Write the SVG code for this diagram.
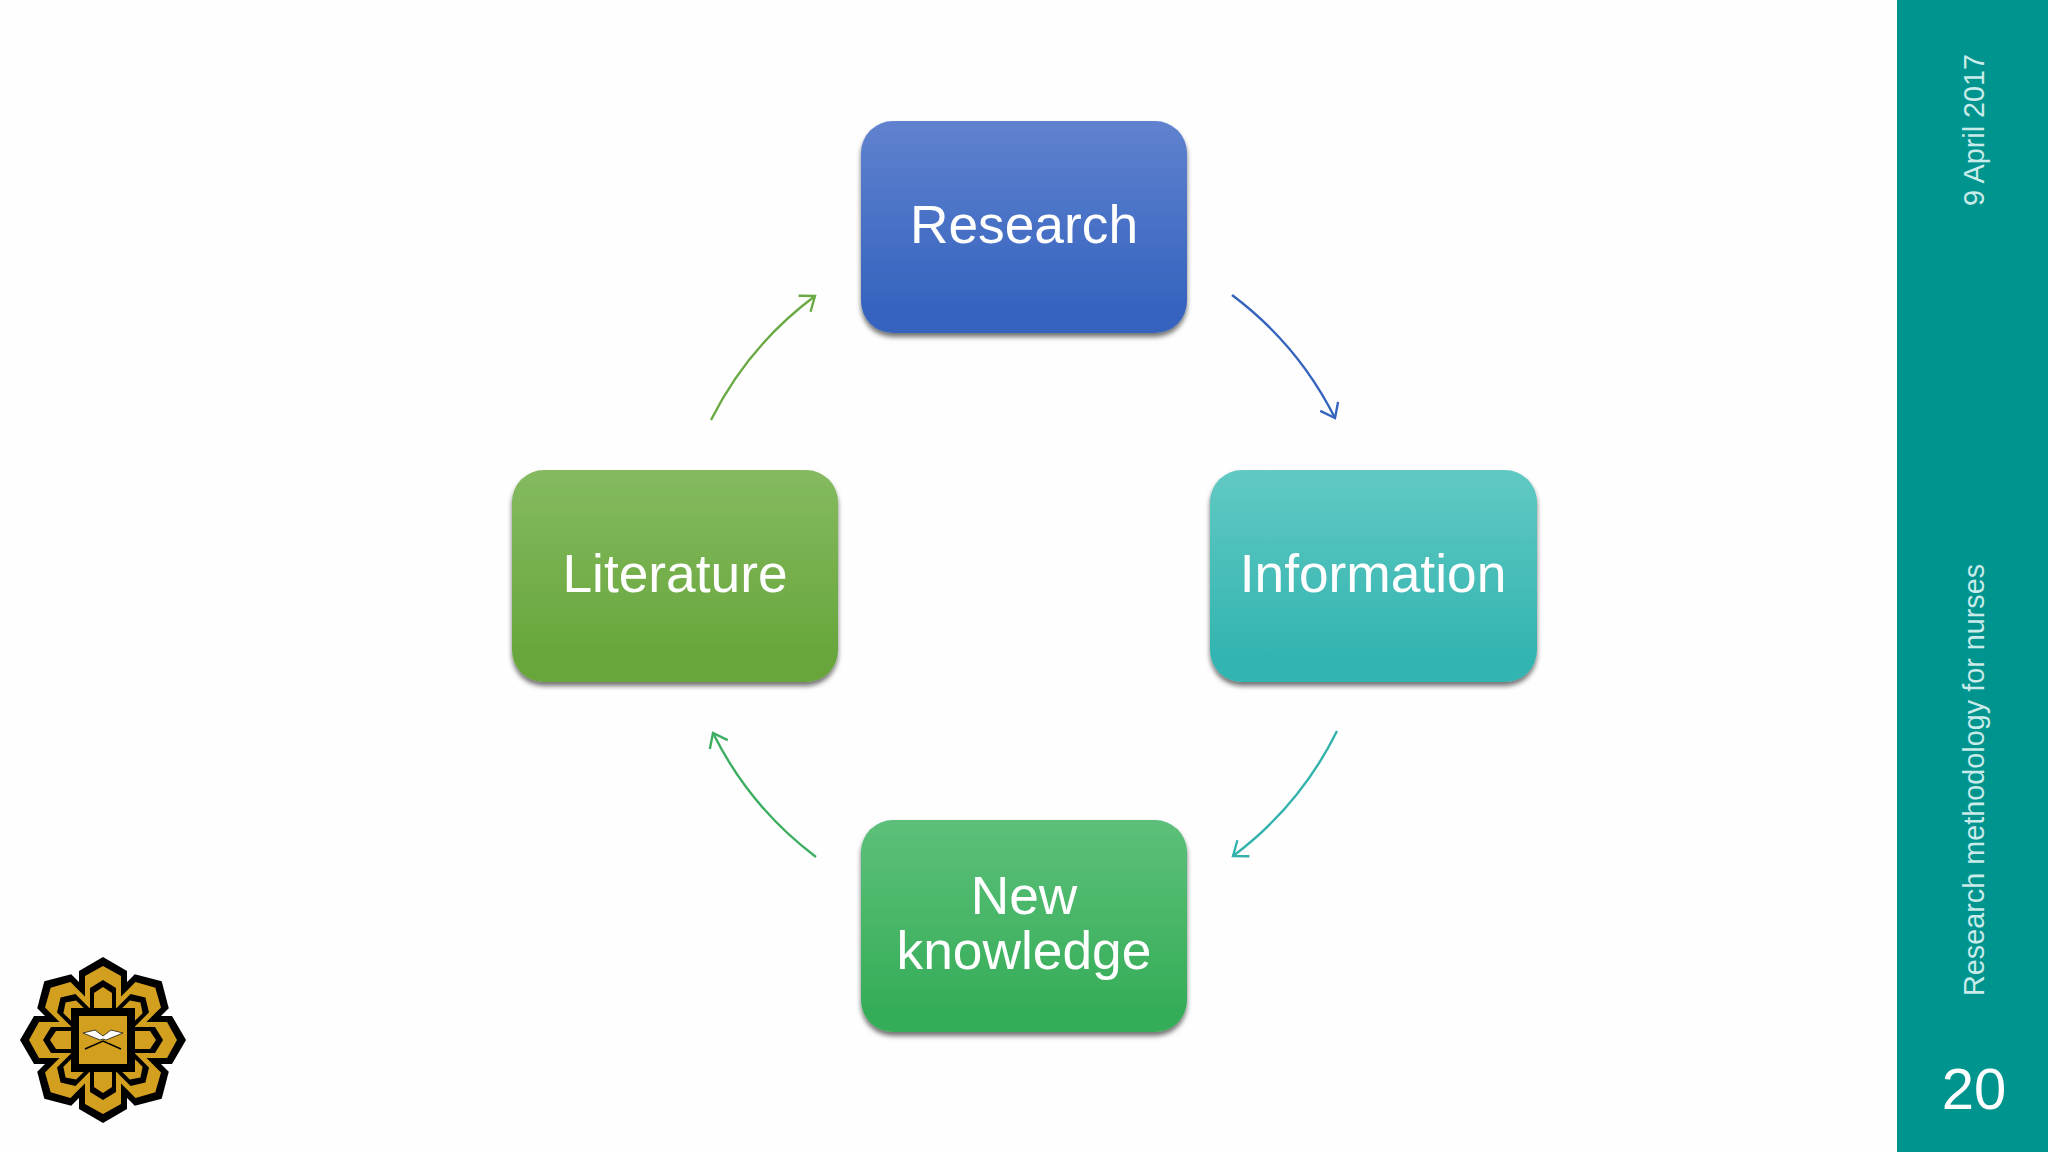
<svg xmlns="http://www.w3.org/2000/svg" xmlns:xlink="http://www.w3.org/1999/xlink" width="2048" height="1152" viewBox="0 0 2048 1152">
<style>
.lbl{font-family:"Liberation Sans",Arial,sans-serif;font-size:53.3px;fill:#fff;text-anchor:middle}
.side{font-family:"Liberation Sans",Arial,sans-serif;font-size:28.8px;fill:#c9ebe9}
.arc{fill:none;stroke-width:2.4}
.box{filter:url(#sh)}
</style>
<defs>
<filter id="sh" x="-10%" y="-10%" width="120%" height="125%"><feDropShadow dx="0" dy="4" stdDeviation="2.5" flood-color="#000" flood-opacity="0.55"/></filter>
<linearGradient id="gB" x1="0" y1="0" x2="0" y2="1"><stop offset="0" stop-color="#6082cf"/><stop offset="0.9" stop-color="#3463be"/></linearGradient>
<linearGradient id="gT" x1="0" y1="0" x2="0" y2="1"><stop offset="0" stop-color="#62c9c3"/><stop offset="0.9" stop-color="#31b4b0"/></linearGradient>
<linearGradient id="gN" x1="0" y1="0" x2="0" y2="1"><stop offset="0" stop-color="#5dc07a"/><stop offset="0.9" stop-color="#35ad58"/></linearGradient>
<linearGradient id="gL" x1="0" y1="0" x2="0" y2="1"><stop offset="0" stop-color="#85ba60"/><stop offset="0.9" stop-color="#67a63b"/></linearGradient>
<marker id="mB" markerUnits="userSpaceOnUse" markerWidth="24" markerHeight="24" refX="16" refY="12" orient="auto"><path d="M3 2L16 12L3 22" fill="none" stroke="#3564bd" stroke-width="2.4"/></marker>
<marker id="mT" markerUnits="userSpaceOnUse" markerWidth="24" markerHeight="24" refX="16" refY="12" orient="auto"><path d="M3 2L16 12L3 22" fill="none" stroke="#33b2ac" stroke-width="2.4"/></marker>
<marker id="mN" markerUnits="userSpaceOnUse" markerWidth="24" markerHeight="24" refX="16" refY="12" orient="auto"><path d="M3 2L16 12L3 22" fill="none" stroke="#3dad62" stroke-width="2.4"/></marker>
<marker id="mL" markerUnits="userSpaceOnUse" markerWidth="24" markerHeight="24" refX="16" refY="12" orient="auto"><path d="M3 2L16 12L3 22" fill="none" stroke="#6aaa45" stroke-width="2.4"/></marker>
<polygon id="p1" points="0,-83 24,-69 24,-30 -24,-30 -24,-69" fill="#000"/>
<polygon id="p2" points="0,-74 18,-64 18,-28 -18,-28 -18,-64" fill="#d29f1e"/>
<polygon id="p3" points="0,-60 13,-52 13,-28 -13,-28 -13,-52" fill="#000"/>
<polygon id="p4" points="0,-53 9,-47 9,-28 -9,-28 -9,-47" fill="#d29f1e"/>
<g id="ring1"><use href="#p1"/><use href="#p1" transform="rotate(45)"/><use href="#p1" transform="rotate(90)"/><use href="#p1" transform="rotate(135)"/><use href="#p1" transform="rotate(180)"/><use href="#p1" transform="rotate(225)"/><use href="#p1" transform="rotate(270)"/><use href="#p1" transform="rotate(315)"/></g>
<g id="ring2"><use href="#p2"/><use href="#p2" transform="rotate(45)"/><use href="#p2" transform="rotate(90)"/><use href="#p2" transform="rotate(135)"/><use href="#p2" transform="rotate(180)"/><use href="#p2" transform="rotate(225)"/><use href="#p2" transform="rotate(270)"/><use href="#p2" transform="rotate(315)"/></g>
<g id="ring3"><use href="#p3"/><use href="#p3" transform="rotate(45)"/><use href="#p3" transform="rotate(90)"/><use href="#p3" transform="rotate(135)"/><use href="#p3" transform="rotate(180)"/><use href="#p3" transform="rotate(225)"/><use href="#p3" transform="rotate(270)"/><use href="#p3" transform="rotate(315)"/></g>
<g id="ring4"><use href="#p4"/><use href="#p4" transform="rotate(45)"/><use href="#p4" transform="rotate(90)"/><use href="#p4" transform="rotate(135)"/><use href="#p4" transform="rotate(180)"/><use href="#p4" transform="rotate(225)"/><use href="#p4" transform="rotate(270)"/><use href="#p4" transform="rotate(315)"/></g>
</defs>
<rect width="2048" height="1152" fill="#fefefe"/>
<rect x="1897" y="0" width="151" height="1152" fill="#00948e"/>
<text class="side" transform="translate(1984 206) rotate(-90)">9 April 2017</text>
<text class="side" transform="translate(1984 996) rotate(-90)">Research methodology for nurses</text>
<text x="1974" y="1109" font-family="Liberation Sans, Arial, sans-serif" font-size="58" fill="#fff" text-anchor="middle">20</text>
<g id="connectors">
<path class="arc" d="M1232 295A350 350 0 0 1 1335 418" stroke="#3564bd" marker-end="url(#mB)"/>
<path class="arc" d="M1337 731A350 350 0 0 1 1233 856" stroke="#33b2ac" marker-end="url(#mT)"/>
<path class="arc" d="M816 857A350 350 0 0 1 713 733" stroke="#3dad62" marker-end="url(#mN)"/>
<path class="arc" d="M711 420A350 350 0 0 1 815 296" stroke="#6aaa45" marker-end="url(#mL)"/>
</g>
<g id="node-research"><rect class="box" x="861" y="121" width="326" height="212" rx="32" fill="url(#gB)"/><text class="lbl" x="1024" y="243">Research</text></g>
<g id="node-information"><rect class="box" x="1210" y="470" width="327" height="212" rx="32" fill="url(#gT)"/><text class="lbl" x="1373" y="592">Information</text></g>
<g id="node-new-knowledge"><rect class="box" x="861" y="820" width="326" height="212" rx="32" fill="url(#gN)"/><text class="lbl"><tspan x="1024" y="914">New</tspan><tspan x="1024" y="969">knowledge</tspan></text></g>
<g id="node-literature"><rect class="box" x="512" y="470" width="326" height="212" rx="32" fill="url(#gL)"/><text class="lbl" x="675" y="592">Literature</text></g>
<g transform="translate(103 1040)">
<use href="#ring1"/><use href="#ring2"/><use href="#ring3"/><use href="#ring4"/>
<rect x="-32" y="-32" width="64" height="64" fill="#000"/>
<rect x="-24" y="-24" width="48" height="48" fill="#d29f1e"/>
<path d="M-18 9L0 1L18 9" fill="none" stroke="#000" stroke-width="1.5"/>
<path d="M-20 -7L-8 -10L0 -4L8 -10L20 -7L3 0L0 -1L-3 0Z" fill="#fff" stroke="#000" stroke-width="0.7"/>
</g>
</svg>
